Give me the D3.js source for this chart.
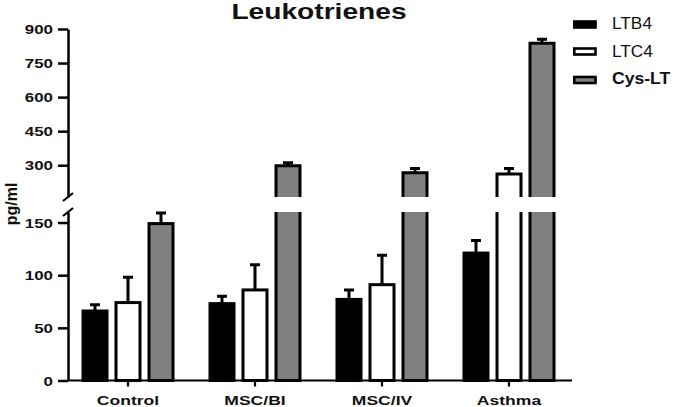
<!DOCTYPE html>
<html>
<head>
<meta charset="utf-8">
<script src="https://cdn.jsdelivr.net/npm/d3@7/dist/d3.min.js"></script>
<style>
html,body{margin:0;padding:0;background:#fff;}
svg{display:block;font-family:"Liberation Sans",Arial,sans-serif;}
</style>
</head>
<body>
<svg id="chart" width="677" height="407"></svg>
<script>
const categories = ["Control", "MSC/BI", "MSC/IV", "Asthma"];
const series = ["LTB4", "LTC4", "Cys-LT"];
const ltb4 = [66, 73, 77, 121];
const ltb4Err = [6, 7, 9, 12];
const ltc4 = [74, 86, 91, 261];
const ltc4Err = [24, 24, 28, 25];
const cyslt = [149, 298, 267, 837];
const cysltErr = [10, 13, 19, 18];
const lowTicks = [0, 50, 100, 150];
const highTicks = [300, 450, 600, 750, 900];
const breakValue = 160;

const values = [ltb4, ltc4, cyslt];
const errors = [ltb4Err, ltc4Err, cysltErr];
const fills = ["#000000", "#ffffff", "#808080"];
const SX = 1.3;

const svg = d3.select("#chart");
const axisX = 68;

const yLow = d3.scaleLinear().domain([0, breakValue]).range([380.5, 212]);
const yHigh = d3.scaleLinear().domain([breakValue, 900]).range([197, 29]);

const x0 = d3.scaleBand().domain(categories).range([64.5, 572.5]).padding(0);
const x1 = d3.scaleBand().domain(series).range([-49.5, 49.5]).paddingInner(9/33).paddingOuter(4.5/33);

function styleAxis(g) {
  g.select(".domain").attr("stroke", "#000").attr("stroke-width", 2.5);
  g.selectAll(".tick line").attr("stroke", "#000").attr("stroke-width", 2.5);
  g.selectAll(".tick text")
    .attr("x", 0).attr("dy", "0.36em")
    .attr("transform", "translate(-15,0) scale(" + SX + ",1)")
    .attr("font-size", 13).attr("font-weight", "bold").attr("fill", "#111")
    .attr("font-family", "'Liberation Sans', Arial, sans-serif");
}
const gHigh = svg.append("g").attr("transform", `translate(${axisX},0)`)
  .call(d3.axisLeft(yHigh).tickValues(highTicks).tickSize(10).tickSizeOuter(0).tickPadding(4));
styleAxis(gHigh);
const gLow = svg.append("g").attr("transform", `translate(${axisX},0)`)
  .call(d3.axisLeft(yLow).tickValues(lowTicks).tickSize(10).tickSizeOuter(0).tickPadding(4));
styleAxis(gLow);

// break marks
[yHigh(breakValue), yLow(breakValue)].forEach(yy => {
  svg.append("line").attr("x1", axisX - 5).attr("y1", yy + 4).attr("x2", axisX + 5).attr("y2", yy - 4)
    .attr("stroke", "#000").attr("stroke-width", 2.2);
});

// X axis
const gx = svg.append("g").attr("transform", "translate(0,380.5)")
  .call(d3.axisBottom(x0).tickSize(6).tickSizeOuter(0).tickPadding(10));
gx.select(".domain").attr("d", `M${axisX},0H572`).attr("stroke", "#000").attr("stroke-width", 2.2);
gx.selectAll(".tick line").attr("stroke", "#000").attr("stroke-width", 2.2);
gx.selectAll(".tick text").attr("y", 0).attr("dy", 0)
  .attr("transform", "translate(0,24.5) scale(" + SX + ",1)")
  .attr("font-size", 13.5).attr("font-weight", "bold").attr("fill", "#111")
  .attr("font-family", "'Liberation Sans', Arial, sans-serif");

// Bars
const bw = x1.bandwidth();
const barG = svg.append("g");
categories.forEach((c, ci) => {
  series.forEach((s, si) => {
    const v = values[si][ci], e = errors[si][ci];
    const xl = x0(c) + x0.bandwidth() / 2 + x1(s);
    const xr = xl + bw;
    const xm = (xl + xr) / 2;
    const fill = fills[si];
    if (v <= breakValue) {
      const yt = yLow(v), yb = yLow(0);
      barG.append("rect").attr("x", xl).attr("y", yt).attr("width", bw).attr("height", yb - yt)
        .attr("fill", fill).attr("stroke", "#000").attr("stroke-width", 3);
      const ye = yLow(v + e);
      barG.append("path").attr("d", `M${xm},${yt}V${ye}M${xm - 5},${ye}H${xm + 5}`)
        .attr("stroke", "#000").attr("stroke-width", 3).attr("fill", "none");
    } else {
      const lt = yLow(breakValue), lb = yLow(0);
      barG.append("rect").attr("x", xl).attr("y", lt).attr("width", bw).attr("height", lb - lt).attr("fill", fill);
      barG.append("path").attr("d", `M${xl},${lt}V${lb}H${xr}V${lt}`)
        .attr("stroke", "#000").attr("stroke-width", 3).attr("fill", "none");
      const ut = yHigh(v), ub = yHigh(breakValue);
      barG.append("rect").attr("x", xl).attr("y", ut).attr("width", bw).attr("height", ub - ut).attr("fill", fill);
      barG.append("path").attr("d", `M${xl},${ub}V${ut}H${xr}V${ub}`)
        .attr("stroke", "#000").attr("stroke-width", 3).attr("fill", "none");
      const ye = yHigh(v + e);
      barG.append("path").attr("d", `M${xm},${ut}V${ye}M${xm - 5},${ye}H${xm + 5}`)
        .attr("stroke", "#000").attr("stroke-width", 3).attr("fill", "none");
    }
  });
});

// Title
svg.append("text").attr("transform", "translate(319,19) scale(1.28,1)")
  .attr("text-anchor", "middle").attr("font-size", 22).attr("font-weight", "bold").attr("fill", "#111")
  .text("Leukotrienes");

// Y label
svg.append("text").attr("transform", "translate(16.5,204) rotate(-90)")
  .attr("text-anchor", "middle").attr("font-size", 16).attr("font-weight", "bold").attr("fill", "#111")
  .text("pg/ml");

// Legend
const legY = [24.5, 51.5, 80];
const legBase = [29, 56.7, 84];
series.forEach((s, i) => {
  svg.append("rect").attr("x", 574.3).attr("y", legY[i] - 3).attr("width", 21.2).attr("height", 6)
    .attr("fill", fills[i]).attr("stroke", "#000").attr("stroke-width", 2.6);
  svg.append("text").attr("transform", `translate(612,${legBase[i]}) scale(${i === 2 ? 1.1 : 1.08},1)`)
    .attr("font-size", 16).attr("font-weight", i === 2 ? "bold" : "normal").attr("fill", "#111")
    .text(s);
});
</script>
</body>
</html>
